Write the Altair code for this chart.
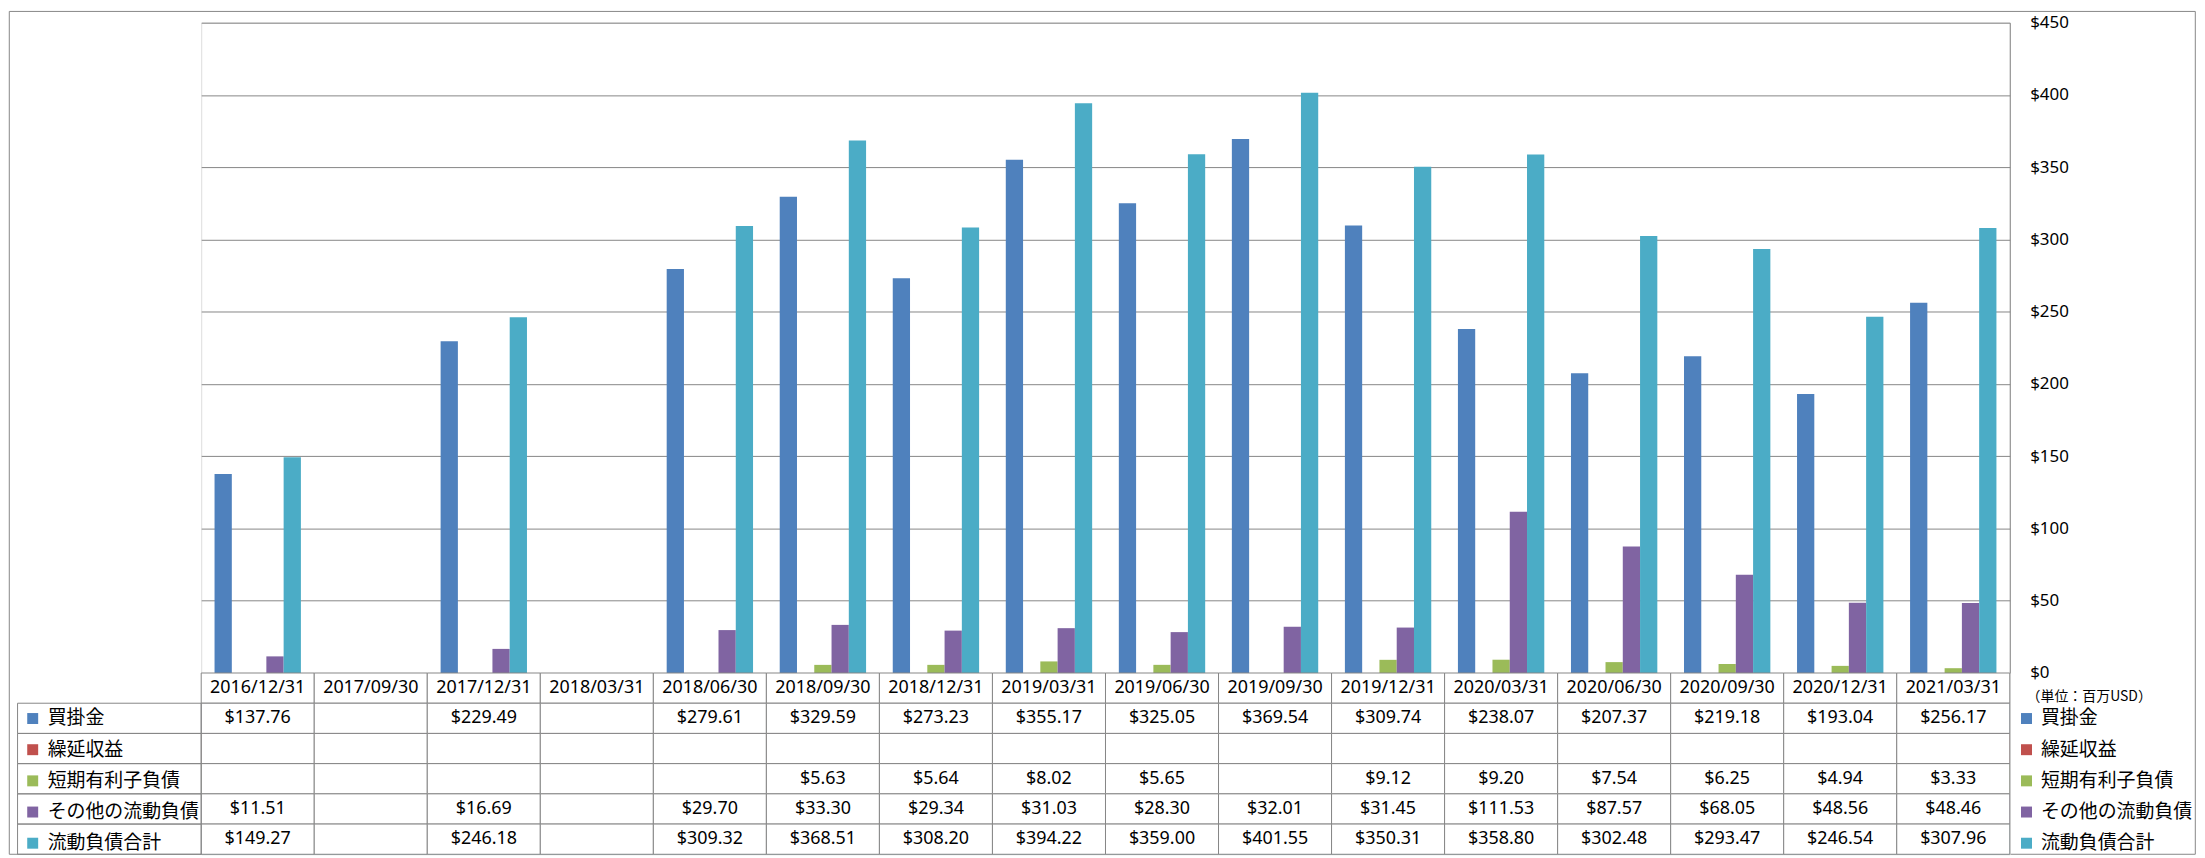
import altair as alt
import pandas as pd

dates = ["2016/12/31", "2017/09/30", "2017/12/31", "2018/03/31", "2018/06/30",
         "2018/09/30", "2018/12/31", "2019/03/31", "2019/06/30", "2019/09/30",
         "2019/12/31", "2020/03/31", "2020/06/30", "2020/09/30", "2020/12/31",
         "2021/03/31"]
series = ["買掛金", "繰延収益", "短期有利子負債", "その他の流動負債", "流動負債合計"]
colors = ["#4F81BD", "#C0504D", "#9BBB59", "#8064A2", "#4BACC6"]

accounts_payable = [137.76, None, 229.49, None, 279.61, 329.59, 273.23, 355.17,
                    325.05, 369.54, 309.74, 238.07, 207.37, 219.18, 193.04, 256.17]
deferred_revenue = [None] * 16
short_term_debt = [None, None, None, None, None, 5.63, 5.64, 8.02,
                   5.65, None, 9.12, 9.20, 7.54, 6.25, 4.94, 3.33]
other_current = [11.51, None, 16.69, None, 29.70, 33.30, 29.34, 31.03,
                 28.30, 32.01, 31.45, 111.53, 87.57, 68.05, 48.56, 48.46]
total_current = [149.27, None, 246.18, None, 309.32, 368.51, 308.20, 394.22,
                 359.00, 401.55, 350.31, 358.80, 302.48, 293.47, 246.54, 307.96]

y_ticks = [0, 50, 100, 150, 200, 250, 300, 350, 400, 450]
unit_label = "（単位：百万USD）"

GRAY = "#868686"
W, H, TH = 1816, 653, 182

records = []
for s, vals in zip(series, [accounts_payable, deferred_revenue, short_term_debt,
                            other_current, total_current]):
    for d, v in zip(dates, vals):
        records.append({"date": d, "row": s, "value": v})
df = pd.DataFrame(records)
vals_df = df.dropna(subset=["value"]).reset_index(drop=True)

table_rows = ["header"] + series
cells_df = pd.DataFrame([{"date": d, "row": r} for r in table_rows for d in dates])
header_df = pd.DataFrame({"date": dates, "row": ["header"] * len(dates)})
label_df = pd.DataFrame({"row": series})

color_scale = alt.Scale(domain=series, range=colors)

# ---------- top: bar chart ----------
frame = alt.Chart(pd.DataFrame({"k": [0]})).mark_rect(
    fill="transparent", stroke=GRAY, strokeWidth=1
).encode(x=alt.value(-192.7), x2=alt.value(W + 186.3),
         y=alt.value(-11.3), y2=alt.value(H + TH))

bars = alt.Chart(vals_df).mark_bar().encode(
    x=alt.X("date:N", sort=dates,
            scale=alt.Scale(domain=dates, paddingInner=0.236, paddingOuter=0.118),
            axis=None),
    xOffset=alt.XOffset("row:N", sort=series,
                        scale=alt.Scale(domain=series, paddingInner=0, paddingOuter=0)),
    y=alt.Y("value:Q", scale=alt.Scale(domain=[0, 450], nice=False),
            axis=alt.Axis(orient="right", values=y_ticks,
                          labelExpr="'$' + datum.value",
                          title=unit_label, titleAngle=0, titleAlign="left",
                          titleBaseline="middle", titleX=16.3, titleY=H + 23.7,
                          titleFont="Noto Sans CJK JP", titleFontSize=14,
                          titleFontWeight="normal", titleColor="black",
                          ticks=False, tickSize=0, labelPadding=20,
                          labelFont="Noto Sans", labelFontSize=17,
                          labelColor="black",
                          grid=True, gridColor=GRAY, gridWidth=1,
                          domain=True, domainColor=GRAY, domainWidth=1)),
    color=alt.Color("row:N", scale=color_scale, sort=series,
                    legend=alt.Legend(orient="none", legendX=W + 7.3, legendY=H + 36.2,
                                      direction="vertical", title=None,
                                      symbolType="square", symbolSize=121,
                                      symbolStrokeWidth=0, labelFontSize=19,
                                      labelFont="Noto Sans CJK JP", labelColor="black",
                                      labelOffset=5, rowPadding=11.3, padding=0,
                                      labelLimit=300)),
)

top = alt.layer(frame, bars).properties(width=W, height=H)

# ---------- bottom: data table ----------
x_tab = alt.X("date:N", sort=dates,
              scale=alt.Scale(domain=dates, paddingInner=0, paddingOuter=0), axis=None)
y_tab = alt.Y("row:N", sort=table_rows,
              scale=alt.Scale(domain=table_rows, paddingInner=0, paddingOuter=0),
              axis=None)

keys = alt.Chart(df).mark_rect().encode(
    x=x_tab, y=y_tab,
    color=alt.Color("row:N", scale=color_scale, sort=series,
                    legend=alt.Legend(orient="none", legendX=-178.7, legendY=36.2,
                                      direction="vertical", title=None,
                                      symbolType="square", symbolSize=121,
                                      symbolStrokeWidth=0, labelFontSize=19,
                                      labelFont="Noto Sans CJK JP", labelColor="black",
                                      labelOffset=5.5, rowPadding=11.3, padding=0,
                                      labelLimit=300)),
)

cells = alt.Chart(cells_df).mark_rect(fill="white", stroke=GRAY, strokeWidth=1).encode(
    x=x_tab, y=y_tab)

label_cells = alt.Chart(label_df).mark_rect(
    fill="transparent", stroke=GRAY, strokeWidth=1
).encode(x=alt.value(-184.4), x2=alt.value(0), y=y_tab)

values_text = alt.Chart(vals_df).transform_calculate(
    label="'$' + format(datum.value, '.2f')"
).mark_text(font="Noto Sans", fontSize=18, color="black").encode(
    x=x_tab, y=y_tab, text="label:N")

header_text = alt.Chart(header_df).mark_text(
    font="Noto Sans", fontSize=18, color="black"
).encode(x=x_tab, y=y_tab, text="date:N")

table = alt.layer(keys, cells, label_cells, values_text, header_text).properties(
    width=W, height=TH)

chart = alt.vconcat(top, table, spacing=0, bounds="flush").resolve_legend(
    color="independent"
).properties(
    padding={"left": 0, "top": 0, "right": 0, "bottom": 0}
).configure_view(stroke="transparent").configure(font="Noto Sans")

chart.save("out.html", embed_options={"renderer": "svg", "actions": False})
